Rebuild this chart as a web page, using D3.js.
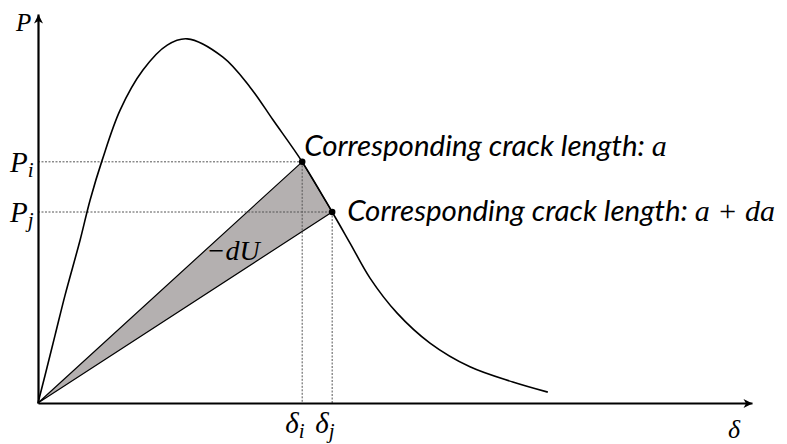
<!DOCTYPE html>
<html>
<head>
<meta charset="utf-8">
<script src="https://cdnjs.cloudflare.com/ajax/libs/d3/7.8.5/d3.min.js"></script>
<style>
  body { margin: 0; background: #fff; }
  .mathText { font-family: "Liberation Serif", "DejaVu Serif", serif; font-style: italic; }
  .noteText { font-family: Lato, "Open Sans", sans-serif; font-style: italic; }
</style>
</head>
<body>
<div class="chart"></div>
<script>
// Load-displacement curve (delta, P), arbitrary units 0-100
var deltaValues = [0, 1.0, 2.4, 3.8, 5.9, 7.3, 9.0, 11.5, 14.7, 18.1, 20.9, 25.9, 29.7, 32.9, 37.0, 41.2, 43.7, 46.5, 50.3, 54.9, 60.5, 66.5, 71.4];
var loadValues  = [0, 7.2, 17.5, 27.8, 41.9, 52.2, 62.5, 75.3, 85.6, 92.0, 93.6, 88.9, 81.2, 72.8, 62.0, 49.1, 41.1, 32.1, 23.1, 15.4, 9.3, 5.4, 2.8];

// The two states i and j
var stateNames = ["i", "j"];
var stateDelta = [37.0, 41.2];
var stateLoad = [62.0, 49.1];
var stateNotes = ["Corresponding crack length: ", "Corresponding crack length: "];
var stateMath = ["a", "a + da"];

//Define SVG
var svgWidth = 787;
var svgHeight = 444;

//Define Margin
var margin = {
  top: 14,
  right: 35,
  bottom: 41,
  left: 38
};

var width = svgWidth - margin.left - margin.right;
var height = svgHeight - margin.top - margin.bottom;

var svg = d3.select(".chart")
  .append("svg")
  .attr("width", svgWidth)
  .attr("height", svgHeight);

// Arrow head for the axes
svg.append("defs").append("marker")
  .attr("id", "arrow")
  .attr("viewBox", "-1 -5 11 10")
  .attr("refX", 9)
  .attr("refY", 0)
  .attr("markerWidth", 11)
  .attr("markerHeight", 10)
  .attr("markerUnits", "userSpaceOnUse")
  .attr("orient", "auto")
  .append("path")
  .attr("d", "M0,-4.5L9,0L0,4.5L2.5,0Z")
  .attr("fill", "#000");

var chartGroup = svg.append("g")
  .attr("transform", `translate(${margin.left}, ${margin.top})`);

var curveData = deltaValues.map((d, i) => ({ delta: d, load: loadValues[i] }));
var states = stateNames.map((n, i) => ({ name: n, delta: stateDelta[i], load: stateLoad[i], note: stateNotes[i], math: stateMath[i] }));

// Create X and Y scales
var xLinearScale = d3.scaleLinear()
  .domain([0, 100])
  .range([0, width]);

var yLinearScale = d3.scaleLinear()
  .domain([0, 100])
  .range([height, 0]);

// Shaded energy triangle -dU
var triangle = [{ delta: 0, load: 0 }, states[0], states[1]];
chartGroup.append("path")
  .attr("d", d3.line().x(d => xLinearScale(d.delta)).y(d => yLinearScale(d.load))(triangle) + "Z")
  .attr("fill", "#b4b0b0")
  .attr("stroke", "#000")
  .attr("stroke-width", 1.2)
  .attr("stroke-linejoin", "round");

// Dotted guides
chartGroup.selectAll(".hGuide")
  .data(states)
  .enter()
  .append("line")
  .attr("class", "hGuide")
  .attr("x1", xLinearScale(0))
  .attr("x2", d => xLinearScale(d.delta))
  .attr("y1", d => yLinearScale(d.load))
  .attr("y2", d => yLinearScale(d.load))
  .attr("stroke", "#555")
  .attr("stroke-width", 1)
  .attr("stroke-dasharray", "2,1.5");

chartGroup.selectAll(".vGuide")
  .data(states)
  .enter()
  .append("line")
  .attr("class", "vGuide")
  .attr("x1", d => xLinearScale(d.delta))
  .attr("x2", d => xLinearScale(d.delta))
  .attr("y1", d => yLinearScale(d.load))
  .attr("y2", yLinearScale(0))
  .attr("stroke", "#555")
  .attr("stroke-width", 1)
  .attr("stroke-dasharray", "2,1.5");

// Load curve
var curveLine = d3.line()
  .x(d => xLinearScale(d.delta))
  .y(d => yLinearScale(d.load))
  .curve(d3.curveCatmullRom.alpha(0.5));

chartGroup.append("path")
  .datum(curveData)
  .attr("d", curveLine)
  .attr("fill", "none")
  .attr("stroke", "#000")
  .attr("stroke-width", 1.6);

// Axes without ticks, arrows at the ends
var bottomAxis = d3.axisBottom(xLinearScale).tickValues([]).tickSizeOuter(0);
var leftAxis = d3.axisLeft(yLinearScale).tickValues([]).tickSizeOuter(0);

chartGroup.append("g")
  .attr("transform", `translate(0, ${height})`)
  .call(bottomAxis)
  .select(".domain")
  .attr("stroke-width", 2.2)
  .attr("marker-end", "url(#arrow)");

chartGroup.append("g")
  .call(leftAxis)
  .select(".domain")
  .attr("stroke-width", 2.2)
  .attr("marker-end", "url(#arrow)");

// State points
chartGroup.selectAll(".statePoint")
  .data(states)
  .enter()
  .append("circle")
  .attr("class", "statePoint")
  .attr("cx", d => xLinearScale(d.delta))
  .attr("cy", d => yLinearScale(d.load))
  .attr("r", 3.3)
  .attr("fill", "#000");

// Notes next to the points
var notes = chartGroup.selectAll(".note")
  .data(states)
  .enter()
  .append("text")
  .attr("class", "note")
  .attr("x", d => xLinearScale(d.delta) + (d.name == "i" ? 2 : 15))
  .attr("y", d => yLinearScale(d.load) + (d.name == "i" ? -6 : 9))
  .attr("font-size", "29.5px");

notes.append("tspan")
  .attr("class", "noteText")
  .text(d => d.note);

notes.append("tspan")
  .attr("class", "mathText")
  .attr("font-size", "30px")
  .text(d => d.math);

// P labels on the y axis
var pLabels = chartGroup.selectAll(".pLabel")
  .data(states)
  .enter()
  .append("text")
  .attr("class", "mathText pLabel")
  .attr("x", -28)
  .attr("y", d => yLinearScale(d.load) + 10)
  .attr("font-size", "29px");

pLabels.append("tspan").text("P");
pLabels.append("tspan")
  .attr("font-size", "21px")
  .attr("dy", 5)
  .text(d => d.name);

// delta labels on the x axis
var dLabels = chartGroup.selectAll(".dLabel")
  .data(states)
  .enter()
  .append("text")
  .attr("class", "mathText dLabel")
  .attr("x", d => xLinearScale(d.delta) - 17)
  .attr("y", height + 30)
  .attr("font-size", "29px");

dLabels.append("tspan").text("δ");
dLabels.append("tspan")
  .attr("font-size", "21px")
  .attr("dy", 5)
  .text(d => d.name);

// Axis titles
chartGroup.append("text")
  .attr("class", "mathText")
  .attr("x", -22)
  .attr("y", 17)
  .attr("font-size", "25px")
  .text("P");

chartGroup.append("text")
  .attr("class", "mathText")
  .attr("x", width - 24)
  .attr("y", height + 35)
  .attr("font-size", "26px")
  .text("δ");

// -dU inside the triangle
chartGroup.append("text")
  .attr("class", "mathText")
  .attr("x", xLinearScale(23.6))
  .attr("y", yLinearScale(36.7))
  .attr("font-size", "28px")
  .text("−dU");
</script>
</body>
</html>
